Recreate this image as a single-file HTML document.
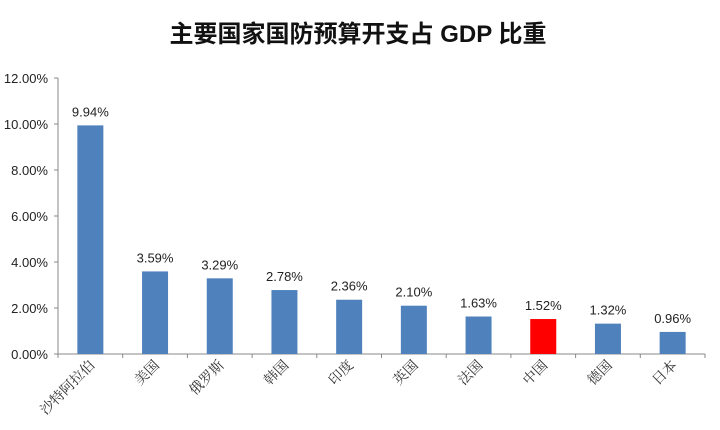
<!DOCTYPE html>
<html><head><meta charset="utf-8"><style>
body{margin:0;background:#fff;}
svg{display:block;font-family:"Liberation Sans","Noto Sans CJK SC",sans-serif;}
</style></head><body>
<svg id="chart" width="720" height="430">
<text x="358" y="42" text-anchor="middle" font-size="24" font-weight="bold" fill="#111">主要国家国防预算开支占 GDP 比重</text>
<g id="axes"></g><g id="bars"></g>
</svg>
<script>
const categories=["沙特阿拉伯","美国","俄罗斯","韩国","印度","英国","法国","中国","德国","日本"];
const values=[9.94,3.59,3.29,2.78,2.36,2.10,1.63,1.52,1.32,0.96];
const valueLabels=["9.94%","3.59%","3.29%","2.78%","2.36%","2.10%","1.63%","1.52%","1.32%","0.96%"];
const yTicks=[0,2,4,6,8,10,12];
const yTickLabels=["0.00%","2.00%","4.00%","6.00%","8.00%","10.00%","12.00%"];
const NS="http://www.w3.org/2000/svg";
const x0=58,x1=705,y0=354,yTop=78,yMax=12;
const bw=(x1-x0)/categories.length;
const ys=v=>y0-(v/yMax)*(y0-yTop);
const xc=i=>x0+bw*(i+0.5);
function mk(t,a,p){const e=document.createElementNS(NS,t);for(const k in a)e.setAttribute(k,a[k]);p.appendChild(e);return e;}
const ax=document.getElementById('axes'),bg=document.getElementById('bars');
let l=mk('line',{x1:x0,y1:yTop,x2:x0,y2:y0,stroke:'#888'},ax);


l=mk('line',{x1:x0,y1:y0,x2:x1,y2:y0,stroke:'#888'},ax);


yTicks.forEach((v,i)=>{
 mk('line',{x1:x0-4,y1:ys(v),x2:x0,y2:ys(v),stroke:'#888'},ax);
 const t=mk('text',{x:x0-10,y:ys(v)+5,'text-anchor':'end','font-size':13,fill:'#222'},ax);
 t.textContent=yTickLabels[i];
 
 
});
for(let i=0;i<=categories.length;i++)mk('line',{x1:x0+bw*i,y1:y0,x2:x0+bw*i,y2:y0+4,stroke:'#888'},ax);
categories.forEach((c,i)=>{
 const r=mk('rect',{x:xc(i)-13,y:ys(values[i]),width:26,height:y0-ys(values[i]),fill:c==="中国"?'#ff0000':'#4f81bd'},bg);
 
 
 const t=mk('text',{x:xc(i),y:ys(values[i])-9,'text-anchor':'middle','font-size':13,fill:'#222'},bg);
 t.textContent=valueLabels[i];
 
 
 const cx=xc(i)+5,cy=y0+12;
 const lt=mk('text',{x:cx,y:cy,'text-anchor':'end','font-size':14,fill:'#333','font-family':'"Noto Serif CJK SC","Liberation Serif",serif',transform:`rotate(-45 ${cx} ${cy})`},bg);
 lt.textContent=c;
 
 
});
</script>
</body></html>
